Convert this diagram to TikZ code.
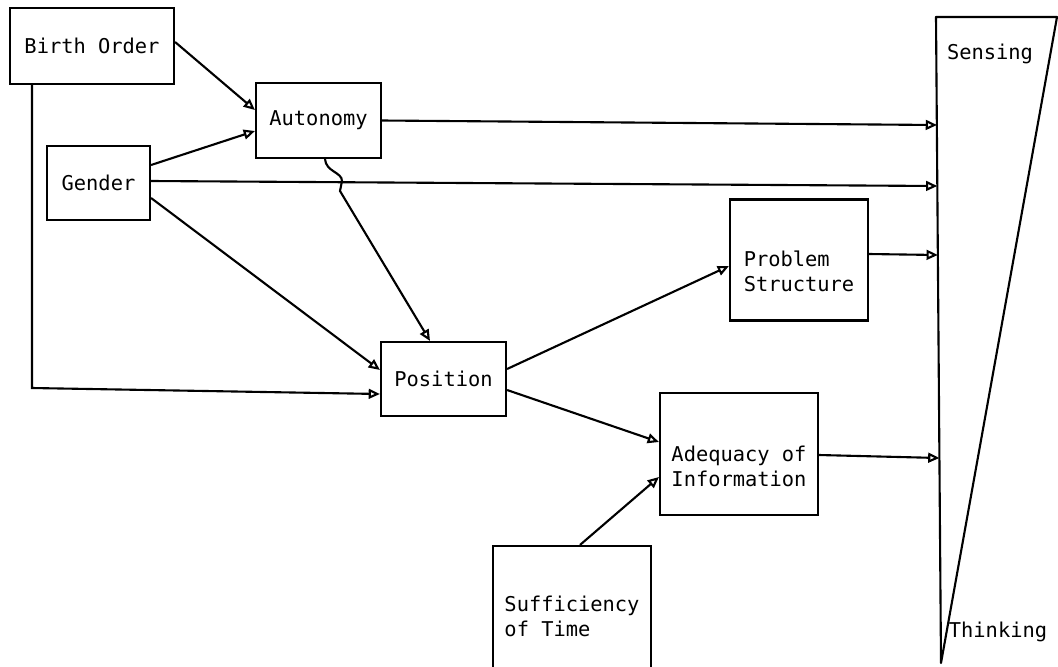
\documentclass[tikz,border=0pt]{standalone}
\usepackage{fontspec}
\setmonofont{DejaVu Sans Mono}
\usetikzlibrary{arrows.meta,calc}

\tikzset{
  box/.style={draw, line width=1.5pt, rectangle, align=left, inner sep=2pt,
    font=\ttfamily\fontsize{14.5}{17.8}\selectfont},
  lbl/.style={font=\ttfamily\fontsize{14.5}{17.8}\selectfont, inner sep=0pt, align=left},
  arr/.style={line width=1.5pt, -{Triangle[open,length=8pt,width=7pt]}}
}

\begin{document}
\begin{tikzpicture}[x=0.025cm,y=-0.025cm]
        \useasboundingbox (0,0) rectangle (1058,666);

        % Boxes
        \node[box, minimum width=4.1cm, minimum height=1.9cm] (birth) at (92,46) {Birth Order};
        \node[box, minimum width=3.125cm, minimum height=1.875cm] (auton) at (318.5,120.5) {Autonomy};
        \node[box, minimum width=2.575cm, minimum height=1.85cm] (gender) at (98.5,183) {Gender};
        \node[box, minimum width=3.125cm, minimum height=1.85cm] (position) at (443.5,379) {Position};
        \node[box, minimum width=3.45cm, minimum height=3.025cm] (problem) at (799,260) {};
        \node[lbl] (problemtext) at ($(problem)+(0,11)$) {Problem\\Structure};
        \node[box, minimum width=3.95cm, minimum height=3.05cm] (adequacy) at (739,454) {};
        \node[lbl] (adequacytext) at ($(adequacy)+(0,12)$) {Adequacy of\\Information};
        \node[box, minimum width=3.95cm, minimum height=3.5cm] (suffic) at (572,616) {Sufficiency\\of Time};

        % Sensing-Thinking wedge
        \draw[line width=1.5pt, line join=round] (936,17) -- (1057,17) -- (941,663) -- cycle;
        \node[lbl] (sensing) at (990,54) {Sensing};
        \node[lbl] (thinking) at (998,632) {Thinking};
        \coordinate (t1) at (937,125);
        \coordinate (t2) at (937.3,186);
        \coordinate (t3) at (937.8,255);
        \coordinate (t4) at (939.4,458);

        % Arrows
        \draw[arr] ($(birth.east)+(0,-4)$) -- ($(auton.west)+(0,-10.5)$);
        \draw[arr] ($(gender.east)+(0,-18)$) -- ($(auton.west)+(0,10.5)$);
        \draw[arr] ($(gender.east)+(0,15)$) -- ($(position.west)+(0,-9)$);
        \draw[arr] ($(birth.south)+(-60,0)$) -- (32,388) -- ($(position.west)+(0,15)$);
        \draw[arr] ($(auton.south)+(6.5,0)$) .. controls (326,172) and (342,172) .. (342,181)
            -- (340,191) -- ($(position.north)+(-13.5,0)$);
        \draw[arr] ($(position.east)+(0,-10)$) -- ($(problem.west)+(0,6)$);
        \draw[arr] ($(position.east)+(0,11)$) -- ($(adequacy.west)+(0,-12)$);
        \draw[arr] ($(suffic.north)+(8,0)$) -- ($(adequacy.west)+(0,23)$);

        % Arrows into the wedge
        \draw[arr] (auton.east) -- (t1);
        \draw[arr] ($(gender.east)+(0,-2)$) -- (t2);
        \draw[arr] ($(problem.east)+(0,-6)$) -- (t3);
        \draw[arr] ($(adequacy.east)+(0,1)$) -- (t4);

    \end{tikzpicture}
\end{document}
